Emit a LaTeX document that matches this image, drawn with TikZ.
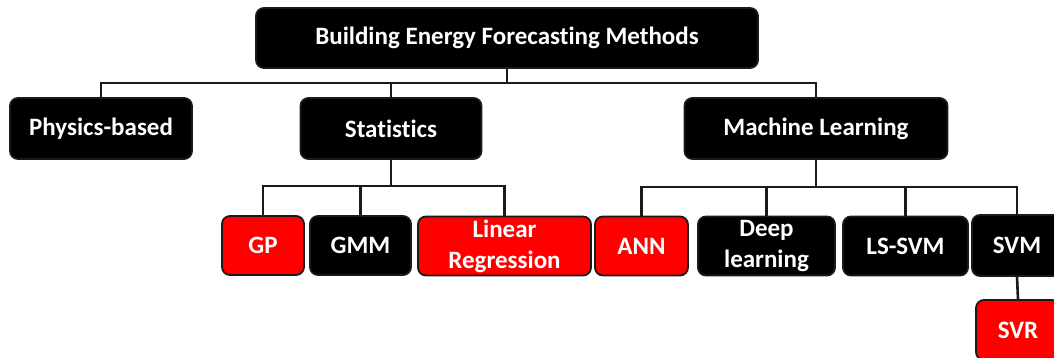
\documentclass[tikz,border=0pt]{standalone}
\usepackage{fontspec}
\setmainfont[RawFeature=-liga]{Carlito}
\definecolor{boxred}{HTML}{FF0000}
\definecolor{ink}{HTML}{1A1A1A}
\tikzset{
  base/.style={rounded corners=8pt, line width=1.8pt, draw=ink, text=white,
    align=center, inner sep=0pt,
    font=\fontsize{25}{31}\selectfont\bfseries},
  blackbox/.style={base, fill=black},
  redbox/.style={base, fill=boxred},
  conn/.style={draw=ink, line width=2.6pt}
}
\begin{document}
\begin{tikzpicture}[x=1pt, y=-1pt]
\clip (0,0) rectangle (1054,358);
\fill[white] (0,0) rectangle (1054,358);

% level 0
\node[blackbox, minimum width=502pt, minimum height=60pt] (top) at (507,38)
  {Building Energy Forecasting Methods};

% level 1
\node[blackbox, minimum width=182pt, minimum height=61pt] (phys) at (101,128.5) {Physics-based};
\node[blackbox, minimum width=181pt, minimum height=61pt] (stat) at (391,128.5) {Statistics};
\node[blackbox, minimum width=263pt, minimum height=61pt] (ml) at (816,128.5) {Machine Learning};

% level 2: statistical methods
\node[redbox,   minimum width=82pt,  minimum height=59pt] (gp)  at (263,245.5) {GP};
\node[blackbox, minimum width=101pt, minimum height=59pt] (gmm) at (360.5,245.5) {GMM};
\node[redbox,   minimum width=173pt, minimum height=59pt] (lr)  at (504.5,246) {Linear\\Regression};

% level 2: machine learning methods
\node[redbox,   minimum width=93pt,  minimum height=59pt] (ann) at (641.5,246) {ANN};
\node[blackbox, minimum width=137pt, minimum height=59pt] (dl)  at (766.5,246) {Deep\\learning};
\node[blackbox, minimum width=125pt, minimum height=59pt] (lss) at (905.5,246) {LS-SVM};
\node[blackbox, minimum width=90pt,  minimum height=61pt] (svm) at (1017,245.5) {SVM};

% level 3
\node[redbox, minimum width=84pt, minimum height=60pt] (svr) at (1018,330) {SVR};

% connector buses
\coordinate (bus1) at (507,83);
\coordinate (bus2) at (391,186);
\coordinate (bus3) at (816,187);

\draw[conn] (top.south) -- (bus1);
\draw[conn] (bus1) -| (phys.north);
\draw[conn] (bus1) -| (stat.north);
\draw[conn] (bus1) -| (ml.north);

\draw[conn] (stat.south) -- (bus2);
\draw[conn] (bus2) -| (gp.north);
\draw[conn] (bus2) -| (gmm.north);
\draw[conn] (bus2) -| (lr.north);

\draw[conn] (ml.south) -- (bus3);
\draw[conn] (bus3) -| (ann.north);
\draw[conn] (bus3) -| (dl.north);
\draw[conn] (bus3) -| (lss.north);
\draw[conn] (bus3) -| (svm.north);

\draw[conn] (svm.south) -- (svr.north);
\end{tikzpicture}
\end{document}
